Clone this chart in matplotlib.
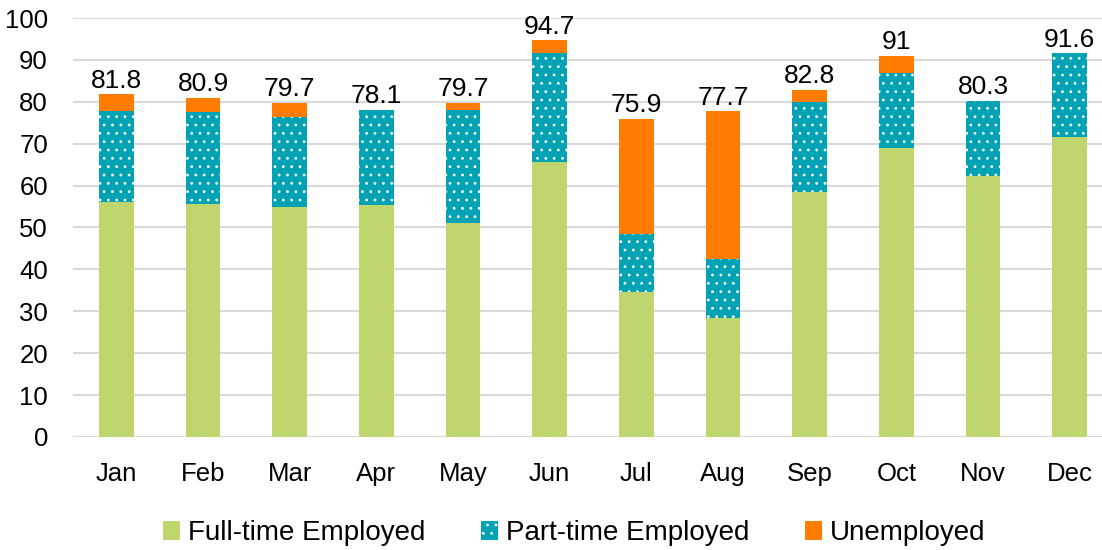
import numpy as np
import matplotlib.pyplot as plt

months = ["Jan", "Feb", "Mar", "Apr", "May", "Jun", "Jul", "Aug", "Sep", "Oct", "Nov", "Dec"]
full_time = [56.1, 55.6, 54.9, 55.4, 51.1, 65.6, 34.6, 28.4, 58.5, 69.0, 62.3, 71.6]
part_time = [21.7, 22.0, 21.5, 22.7, 26.9, 26.0, 13.8, 14.1, 21.5, 17.9, 18.0, 20.0]
unemployed = [4.0, 3.3, 3.3, 0.0, 1.7, 3.1, 27.5, 35.2, 2.8, 4.1, 0.0, 0.0]
totals = ["81.8", "80.9", "79.7", "78.1", "79.7", "94.7", "75.9", "77.7", "82.8", "91", "80.3", "91.6"]

plt.rcParams['font.family'] = ['Liberation Sans', 'DejaVu Sans']
plt.rcParams['hatch.linewidth'] = 0.8

fig = plt.figure(figsize=(11.02, 5.5), dpi=100)
ax = fig.add_axes([73 / 1102, 1 - 437 / 550, 1040 / 1102, 419 / 550])

x = np.arange(len(months))
w = 0.4
ft = np.array(full_time)
pt = np.array(part_time)
ue = np.array(unemployed)

ax.bar(x, ft, w, color="#BFD66F", label="Full-time Employed", zorder=2)
ax.bar(x, pt, w, bottom=ft, color="#00A2B4", edgecolor="white", linewidth=0,
       hatch="..", label="Part-time Employed", zorder=2)
ax.bar(x, ue, w, bottom=ft + pt, color="#FF7C00", label="Unemployed", zorder=2)

# total labels on top of each stack
for i, t in enumerate(totals):
    ax.text(x[i], ft[i] + pt[i] + ue[i] + 0.4, t, ha="center", va="bottom", fontsize=19)

ax.set_ylim(0, 100)
ax.set_xlim(-0.5, 11.5)
ax.set_yticks(range(0, 101, 10))
ax.set_xticks(x)
ax.set_xticklabels(months)
ax.tick_params(axis="both", length=0, labelsize=18.5)
ax.tick_params(axis="x", pad=18)
ax.tick_params(axis="y", pad=18)
ax.yaxis.grid(True, color="#D9D9D9", linewidth=1.5, zorder=0)
ax.set_axisbelow(True)
for s in ax.spines.values():
    s.set_visible(False)

ax.legend(loc="center", bbox_to_anchor=(0.482, -0.229), ncol=3, frameon=False,
          fontsize=20, handlelength=0.6, handleheight=0.7, handletextpad=0.3, columnspacing=2.0)

fig.savefig("out.png", dpi=100)
